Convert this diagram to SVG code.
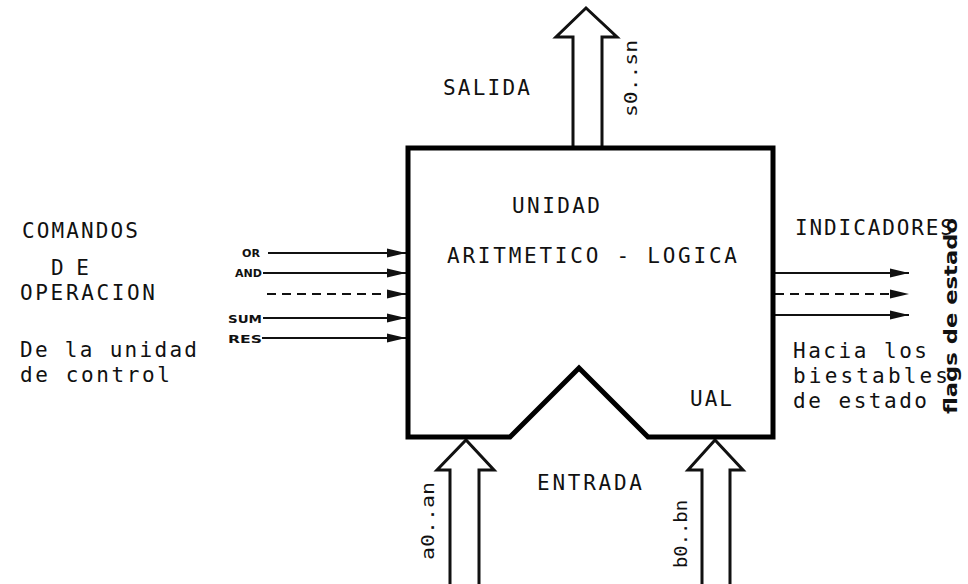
<svg xmlns="http://www.w3.org/2000/svg" width="968" height="584" viewBox="0 0 968 584">
<defs>
<style>
.t{font-family:"DejaVu Sans Mono","Liberation Mono",monospace;font-size:21px;fill:#111}
.s{font-family:"DejaVu Sans","Liberation Sans",sans-serif;font-size:11px;font-weight:bold;fill:#111}
.r{font-family:"DejaVu Sans Mono","Liberation Mono",monospace;font-size:18px;fill:#111}
.fl{font-family:"DejaVu Sans","Liberation Sans",sans-serif;font-size:18px;font-weight:bold;fill:#111}
.ln{stroke:#111;stroke-width:2.2;fill:none}
.dash{stroke-dasharray:9 6}
.bus{stroke:#111;stroke-width:3;fill:#fff;stroke-linejoin:miter}
</style>
<marker id="ah" markerUnits="userSpaceOnUse" markerWidth="20" markerHeight="12" refX="19" refY="6" orient="auto">
<path d="M0,1.5 L19,6 L0,10.5 Z" fill="#111"/>
</marker>
</defs>
<rect width="968" height="584" fill="#fff"/>

<g id="connectors">
<line class="ln" x1="268" y1="253" x2="406" y2="253" marker-end="url(#ah)"/>
<line class="ln" x1="263" y1="273" x2="406" y2="273" marker-end="url(#ah)"/>
<line class="ln dash" x1="267" y1="294" x2="406" y2="294" marker-end="url(#ah)"/>
<line class="ln" x1="263" y1="318" x2="406" y2="318" marker-end="url(#ah)"/>
<line class="ln" x1="262" y1="338" x2="406" y2="338" marker-end="url(#ah)"/>
<line class="ln" x1="775" y1="273" x2="909" y2="273" marker-end="url(#ah)"/>
<line class="ln dash" x1="775" y1="294" x2="909" y2="294" marker-end="url(#ah)"/>
<line class="ln" x1="775" y1="315" x2="909" y2="315" marker-end="url(#ah)"/>
</g>

<g id="bus-salida">
<path class="bus" d="M573,149 V37 H556 L586,8 L617,37 H602 V149"/>
<text class="r" transform="translate(637,117) rotate(-90)" textLength="77" lengthAdjust="spacingAndGlyphs">s0..sn</text>
</g>
<g id="bus-a">
<path class="bus" d="M450,590 V470 H437 L466,440 L494,470 H479 V590"/>
<text class="r" transform="translate(434,560) rotate(-90)" textLength="78" lengthAdjust="spacingAndGlyphs">a0..an</text>
</g>
<g id="bus-b">
<path class="bus" d="M702,590 V470 H688 L715,440 L743,470 H730 V590"/>
<text class="r" transform="translate(687,568) rotate(-90)" textLength="68" lengthAdjust="spacingAndGlyphs">b0..bn</text>
</g>

<g id="ual">
<path d="M408,148 H773 V437 H648 L579,368 L510,437 H408 Z" fill="none" stroke="#000" stroke-width="5" stroke-linejoin="miter"/>
<text class="t" x="512" y="213" textLength="88" lengthAdjust="spacing">UNIDAD</text>
<text class="t" x="447" y="263" textLength="290" lengthAdjust="spacing">ARITMETICO - LOGICA</text>
<text class="t" x="690" y="406" textLength="42" lengthAdjust="spacing">UAL</text>
</g>

<g id="labels-top">
<text class="t" x="443" y="95" textLength="87" lengthAdjust="spacing">SALIDA</text>
<text class="t" x="537" y="490" textLength="105" lengthAdjust="spacing">ENTRADA</text>
</g>

<g id="comandos">
<text class="t" x="22" y="238" textLength="116" lengthAdjust="spacing">COMANDOS</text>
<text class="t" x="51" y="275" textLength="38" lengthAdjust="spacing">DE</text>
<text class="t" x="20" y="300" textLength="135" lengthAdjust="spacing">OPERACION</text>
<text class="t" x="20" y="357" textLength="177" lengthAdjust="spacing">De la unidad</text>
<text class="t" x="20" y="382" textLength="150" lengthAdjust="spacing">de control</text>
<text class="s" x="242" y="257" textLength="18" lengthAdjust="spacingAndGlyphs">OR</text>
<text class="s" x="235" y="277" textLength="27" lengthAdjust="spacingAndGlyphs">AND</text>
<text class="s" x="228" y="323" textLength="34" lengthAdjust="spacingAndGlyphs">SUM</text>
<text class="s" x="228" y="343" textLength="34" lengthAdjust="spacingAndGlyphs">RES</text>
</g>

<g id="indicadores">
<text class="t" x="795" y="235" textLength="158" lengthAdjust="spacing">INDICADORES</text>
<text class="t" x="793" y="358" textLength="134" lengthAdjust="spacing">Hacia los</text>
<text class="t" x="793" y="383" textLength="155" lengthAdjust="spacing">biestables</text>
<text class="t" x="793" y="408" textLength="134" lengthAdjust="spacing">de estado</text>
<text class="fl" transform="translate(957,414) rotate(-90)" textLength="196" lengthAdjust="spacingAndGlyphs">flags de estado</text>
</g>
</svg>
